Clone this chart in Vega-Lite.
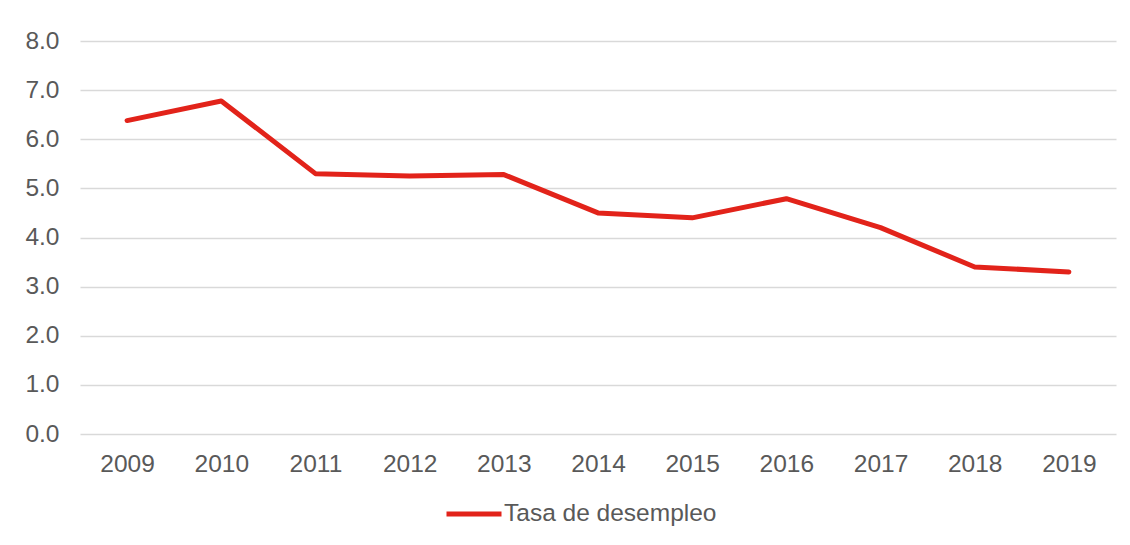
{
  "$schema": "https://vega.github.io/schema/vega-lite/v6.json",
  "autosize": "none",
  "width": 1036,
  "height": 393,
  "padding": {"left": 80, "top": 41, "right": 14, "bottom": 111},
  "background": "white",
  "data": {
    "values": [
      {"year": "2009", "value": 6.38, "serie": "Tasa de desempleo"},
      {"year": "2010", "value": 6.78, "serie": "Tasa de desempleo"},
      {"year": "2011", "value": 5.3, "serie": "Tasa de desempleo"},
      {"year": "2012", "value": 5.25, "serie": "Tasa de desempleo"},
      {"year": "2013", "value": 5.28, "serie": "Tasa de desempleo"},
      {"year": "2014", "value": 4.5, "serie": "Tasa de desempleo"},
      {"year": "2015", "value": 4.4, "serie": "Tasa de desempleo"},
      {"year": "2016", "value": 4.79, "serie": "Tasa de desempleo"},
      {"year": "2017", "value": 4.2, "serie": "Tasa de desempleo"},
      {"year": "2018", "value": 3.4, "serie": "Tasa de desempleo"},
      {"year": "2019", "value": 3.3, "serie": "Tasa de desempleo"}
    ]
  },
  "mark": {"type": "line", "strokeWidth": 5, "strokeCap": "round", "strokeJoin": "round"},
  "encoding": {
    "x": {
      "field": "year",
      "type": "ordinal",
      "scale": {"type": "point", "padding": 0.5},
      "axis": {
        "title": null,
        "labelAngle": 0,
        "domain": false,
        "ticks": false,
        "grid": false,
        "labelPadding": 18,
        "labelFont": "Liberation Sans",
        "labelFontSize": 24.5,
        "labelColor": "#595959"
      }
    },
    "y": {
      "field": "value",
      "type": "quantitative",
      "scale": {"domain": [0, 8], "nice": false, "zero": true},
      "axis": {
        "title": null,
        "values": [0, 1, 2, 3, 4, 5, 6, 7, 8],
        "format": ".1f",
        "domain": false,
        "ticks": false,
        "grid": true,
        "gridColor": "#d9d9d9",
        "gridWidth": 1.5,
        "labelPadding": 21,
        "labelFont": "Liberation Sans",
        "labelFontSize": 24.5,
        "labelColor": "#595959"
      }
    },
    "color": {
      "field": "serie",
      "type": "nominal",
      "scale": {"range": ["#E2231A"]},
      "legend": {
        "title": null,
        "orient": "none",
        "legendX": 364,
        "legendY": 443,
        "padding": 0,
        "symbolType": "stroke",
        "symbolSize": 3025,
        "symbolStrokeWidth": 5,
        "labelOffset": 0,
        "labelLimit": 0,
        "labelFont": "Liberation Sans",
        "labelFontSize": 24.5,
        "labelColor": "#595959"
      }
    }
  },
  "config": {"view": {"stroke": null}}
}
